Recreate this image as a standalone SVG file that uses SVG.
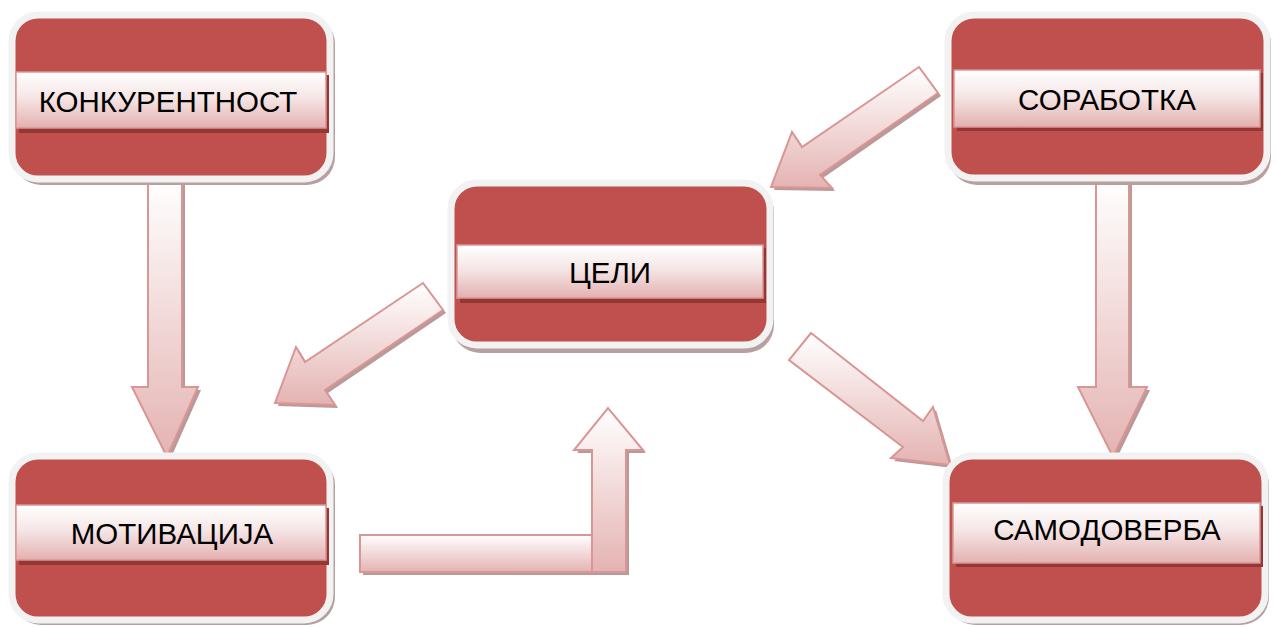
<svg xmlns="http://www.w3.org/2000/svg" width="1277" height="627" viewBox="0 0 1277 627">
<defs>
<linearGradient id="barG" x1="0" y1="0" x2="0" y2="1">
<stop offset="0" stop-color="#ffffff"/>
<stop offset="0.45" stop-color="#f6e6e6"/>
<stop offset="1" stop-color="#e3b1b0"/>
</linearGradient>
<linearGradient id="arrG" x1="0" y1="0" x2="0" y2="1">
<stop offset="0" stop-color="#ffffff"/>
<stop offset="1" stop-color="#e4b3b2"/>
</linearGradient>
<linearGradient id="hbarG" x1="0" y1="535" x2="0" y2="572" gradientUnits="userSpaceOnUse">
<stop offset="0" stop-color="#ffffff"/>
<stop offset="1" stop-color="#e4b3b2"/>
</linearGradient>
</defs>
<style>
.sh{fill:#b8a0a0;}
.box{fill:#c0504d;stroke:#f2f2f2;stroke-width:7;}
.bsh{fill:#943634;}
.bar{fill:url(#barG);stroke:#d99694;stroke-width:1.5;}
.lbl{font-family:"Liberation Sans",Arial,sans-serif;font-size:29.5px;fill:#000;text-anchor:middle;}
.ash{fill:#a88080;opacity:0.8;}
.arr{fill:url(#arrG);stroke:#d99694;stroke-width:2;stroke-linejoin:miter;}
</style>
<g id="connectors">
<g id="c1">
<polygon class="ash" transform="translate(3,3)" points="148,180 182,180 182,387 198,387 167,457 132,387 148,387"/>
<polygon class="arr" points="148,180 182,180 182,387 198,387 167,457 132,387 148,387"/>
</g>
<g id="c2">
<polygon class="ash" transform="translate(3,3)" points="1096,180 1129,180 1129,387 1147,387 1113,457 1078,387 1096,387"/>
<polygon class="arr" points="1096,180 1129,180 1129,387 1147,387 1113,457 1078,387 1096,387"/>
</g>
<g id="c3">
<polygon class="ash" transform="translate(3,3)" points="423,283 443,310 325,390 335,405 275,403 296,347 305,362"/>
<polygon class="arr" points="423,283 443,310 325,390 335,405 275,403 296,347 305,362"/>
</g>
<g id="c4">
<polygon class="ash" transform="translate(3,3)" points="919,67 938,93 820,175 832,188 771,187 792,132 802,147"/>
<polygon class="arr" points="919,67 938,93 820,175 832,188 771,187 792,132 802,147"/>
</g>
<g id="c5">
<polygon class="ash" transform="translate(3,3)" points="811,333 923,421 933,407 950,465 891,458 903,447 789,360"/>
<polygon class="arr" points="811,333 923,421 933,407 950,465 891,458 903,447 789,360"/>
</g>
<g id="c6">
<polygon class="ash" transform="translate(3,3)" points="360,535 592,535 592,450 574,450 608,408 643,450 626,450 626,572 360,572"/>
<polygon class="arr" points="360,535 592,535 592,450 574,450 608,408 643,450 626,450 626,572 360,572"/>
<rect x="361" y="536" width="230" height="35" fill="url(#hbarG)"/>
<line x1="592" y1="535" x2="592" y2="572" stroke="#d99694" stroke-width="2"/>
</g>
</g>
<g id="n1">
<rect class="sh" x="13" y="16" width="322" height="169" rx="28"/>
<rect class="box" x="12" y="15" width="318" height="164" rx="26"/>
<rect class="bsh" x="19" y="75" width="310" height="58"/>
<rect class="bar" x="16" y="72" width="310" height="56"/>
<text class="lbl" x="168" y="112">КОНКУРЕНТНОСТ</text>
</g>
<g id="n2">
<rect class="sh" x="452" y="184" width="322" height="169" rx="28"/>
<rect class="box" x="451" y="183" width="319" height="162" rx="26"/>
<rect class="bsh" x="460" y="248" width="306" height="55"/>
<rect class="bar" x="457" y="245" width="306" height="53"/>
<text class="lbl" x="610" y="283">ЦЕЛИ</text>
</g>
<g id="n3">
<rect class="sh" x="949" y="16" width="322" height="169" rx="28"/>
<rect class="box" x="948" y="15" width="319" height="163" rx="26"/>
<rect class="bsh" x="957" y="73" width="306" height="58"/>
<rect class="bar" x="954" y="70" width="306" height="57"/>
<text class="lbl" x="1107" y="110">СОРАБОТКА</text>
</g>
<g id="n4">
<rect class="sh" x="13" y="457" width="322" height="168" rx="28"/>
<rect class="box" x="12" y="456" width="318" height="164" rx="26"/>
<rect class="bsh" x="19" y="508" width="310" height="57"/>
<rect class="bar" x="16" y="505" width="310" height="55"/>
<text class="lbl" x="172" y="544">МОТИВАЦИЈА</text>
</g>
<g id="n5">
<rect class="sh" x="947" y="457" width="322" height="168" rx="28"/>
<rect class="box" x="946" y="456" width="319" height="164" rx="26"/>
<rect class="bsh" x="956" y="506" width="307" height="61"/>
<rect class="bar" x="953" y="503" width="307" height="60"/>
<text class="lbl" x="1107" y="540">САМОДОВЕРБА</text>
</g>
</svg>
